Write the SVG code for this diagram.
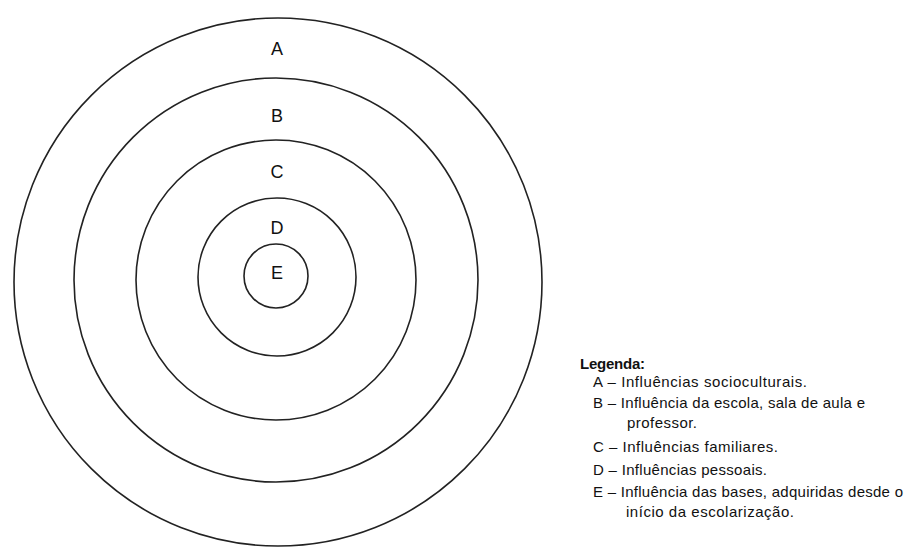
<svg xmlns="http://www.w3.org/2000/svg" width="907" height="547" viewBox="0 0 907 547">
<style>
.ring{fill:none;stroke:#222;stroke-width:1.6}
.lbl{font-family:"Liberation Sans",Arial,sans-serif;font-size:18px;fill:#111;text-anchor:middle}
.leg{font-family:"Liberation Sans",Arial,sans-serif;font-size:15px;fill:#111}
.legt{font-family:"Liberation Sans",Arial,sans-serif;font-size:15px;font-weight:bold;fill:#111}
</style>
<rect width="907" height="547" fill="#fff"/>
<g id="ringA"><circle class="ring" cx="278" cy="282" r="264"/><text class="lbl" x="277" y="55">A</text></g>
<g id="ringB"><circle class="ring" cx="276" cy="280" r="202"/><text class="lbl" x="277" y="122">B</text></g>
<g id="ringC"><circle class="ring" cx="276" cy="280" r="140"/><text class="lbl" x="277" y="178">C</text></g>
<g id="ringD"><circle class="ring" cx="277" cy="277" r="79"/><text class="lbl" x="277" y="234">D</text></g>
<g id="ringE"><circle class="ring" cx="276" cy="276" r="32"/><text class="lbl" x="277" y="279">E</text></g>
<g id="connectors"></g>
<g id="legend">
<text class="legt" x="580" y="369" textLength="65" lengthAdjust="spacing">Legenda:</text>
<text class="leg" x="593" y="387" textLength="214" lengthAdjust="spacing">A – Influências socioculturais.</text>
<text class="leg" x="593" y="408" textLength="272" lengthAdjust="spacing">B – Influência da escola, sala de aula e</text>
<text class="leg" x="627" y="428" textLength="70" lengthAdjust="spacing">professor.</text>
<text class="leg" x="593" y="452" textLength="185" lengthAdjust="spacing">C – Influências familiares.</text>
<text class="leg" x="593" y="475" textLength="174" lengthAdjust="spacing">D – Influências pessoais.</text>
<text class="leg" x="593" y="497" textLength="310" lengthAdjust="spacing">E – Influência das bases, adquiridas desde o</text>
<text class="leg" x="626" y="517" textLength="168" lengthAdjust="spacing">início da escolarização.</text>
</g>
</svg>
